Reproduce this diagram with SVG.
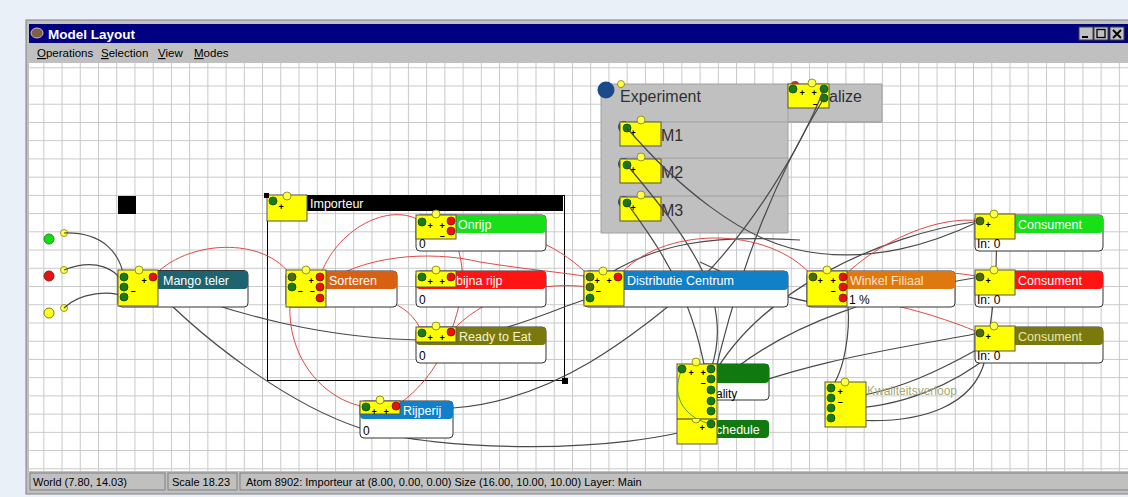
<svg xmlns="http://www.w3.org/2000/svg" width="1128" height="497" viewBox="0 0 1128 497">
<defs>
<pattern id="grid" patternUnits="userSpaceOnUse" x="43.3" y="85.5" width="18.23" height="18.23">
<path d="M0.5,0 V18.23 M0,0.5 H18.23" stroke="#c8c8c8" stroke-width="1" fill="none"/>
</pattern>
<style>
.yb{fill:#ffff00;stroke:#555;stroke-width:1}
.gp{fill:#1a7a1a;stroke:#0c4a0c;stroke-width:0.8}
.op{fill:#4a6a10;stroke:#2a3a08;stroke-width:0.8}
.rp{fill:#e81010;stroke:#801010;stroke-width:0.8}
.yp{fill:#ffff50;stroke:#808000;stroke-width:0.8}
.body{fill:#fff;stroke:#333;stroke-width:1}
.t{font-family:"Liberation Sans",Arial,sans-serif;font-size:12.5px;fill:#fff}
.b{font-family:"Liberation Sans",Arial,sans-serif;font-size:12px;fill:#000}
.s{font-family:"Liberation Sans",Arial,sans-serif;font-size:9px;font-weight:bold;fill:#000}
.big{font-family:"Liberation Sans",Arial,sans-serif;font-size:16px;fill:#303030}
.ui{font-family:"Liberation Sans",Arial,sans-serif;font-size:11.5px;fill:#000}
.w{fill:none;stroke:#4a4a4a;stroke-width:1.2}
.r{fill:none;stroke:#e04848;stroke-width:1}
</style>
</defs>
<rect width="1128" height="497" fill="#eaf0f8"/>
<!-- window chrome -->
<rect x="26" y="20" width="1110" height="474" fill="#c0c0c0" stroke="#808080"/>
<rect x="29" y="24" width="1099" height="19" fill="#000080"/>
<ellipse cx="37" cy="33" rx="6" ry="5" fill="#806040" stroke="#c0c0c0"/>
<text x="48" y="38.5" style="font-family:'Liberation Sans',Arial,sans-serif;font-size:13.5px;font-weight:bold;fill:#fff">Model Layout</text>
<g id="titlebuttons">
<rect x="1079" y="27" width="14" height="13" fill="#c0c0c0" stroke="#404040"/>
<rect x="1094" y="27" width="14" height="13" fill="#c0c0c0" stroke="#404040"/>
<rect x="1110" y="27" width="14" height="13" fill="#c0c0c0" stroke="#404040"/>
<path d="M1082,37 H1088" stroke="#000" stroke-width="2"/>
<rect x="1097" y="29.5" width="8" height="8" fill="none" stroke="#000" stroke-width="1.3"/>
<path d="M1113,30 L1121,38 M1121,30 L1113,38" stroke="#000" stroke-width="1.8"/>
</g>
<g id="menu">
<text x="37" y="57" class="ui"><tspan text-decoration="underline">O</tspan>perations</text>
<text x="101" y="57" class="ui"><tspan text-decoration="underline">S</tspan>election</text>
<text x="158" y="57" class="ui"><tspan text-decoration="underline">V</tspan>iew</text>
<text x="194" y="57" class="ui"><tspan text-decoration="underline">M</tspan>odes</text>
</g>
<!-- canvas -->
<rect x="29" y="63" width="1099" height="408" fill="#fff"/>
<rect x="29" y="63" width="1099" height="408" fill="url(#grid)"/>
<!-- status bar -->
<g id="status">
<rect x="30" y="473" width="135" height="17" fill="#c0c0c0" stroke="#808080"/>
<rect x="168" y="473" width="69" height="17" fill="#c0c0c0" stroke="#808080"/>
<rect x="240" y="473" width="890" height="17" fill="#c0c0c0" stroke="#808080"/>
<text x="33" y="486" class="ui" style="font-size:11px">World (7.80, 14.03)</text>
<text x="172" y="486" class="ui" style="font-size:11px">Scale 18.23</text>
<text x="246" y="486" class="ui" style="font-size:11px">Atom 8902: Importeur at (8.00, 0.00, 0.00) Size (16.00, 10.00, 10.00) Layer: Main</text>
</g>

<!-- Experiment -->
<g id="experiment">
<path d="M601,84 H882 V122 H788 V233 H601 Z" fill="#c0c0c0" stroke="#a0a0a0"/>
<path d="M620,122 H882 M620,158 H788 M620,196 H788 M788,84 V122" stroke="#a0a0a0" fill="none"/>
<circle cx="606" cy="90" r="8.5" fill="#1a4a8a"/>
<circle cx="621" cy="84" r="3.5" class="yp"/>
<text x="620" y="102" class="big">Experiment</text>
</g>
<g id="m1">
<circle cx="624" cy="127" r="6" fill="#1a4a8a"/>
<rect x="620" y="122" width="41" height="24" class="yb"/>
<circle cx="627" cy="128" r="4" class="gp"/>
<circle cx="641" cy="120" r="4" class="yp"/>
<text x="630.4" y="135.5" class="s">+</text>
<text x="661" y="141" class="big">M1</text>
</g>
<g id="m2">
<circle cx="624" cy="164" r="6" fill="#1a4a8a"/>
<rect x="620" y="159" width="41" height="24" class="yb"/>
<circle cx="627" cy="165" r="4" class="gp"/>
<circle cx="641" cy="157" r="4" class="yp"/>
<text x="630.4" y="172.5" class="s">+</text>
<text x="661" y="178" class="big">M2</text>
</g>
<g id="m3">
<circle cx="624" cy="202" r="6" fill="#1a4a8a"/>
<rect x="620" y="197" width="41" height="24" class="yb"/>
<circle cx="627" cy="203" r="4" class="gp"/>
<circle cx="641" cy="195" r="4" class="yp"/>
<text x="630.4" y="210.5" class="s">+</text>
<text x="661" y="216" class="big">M3</text>
</g>
<g id="analize">
<circle cx="795" cy="85" r="4" fill="#c03040"/>
<text x="829" y="102" class="big">alize</text>
<rect x="788" y="84" width="41" height="24" class="yb"/>
<circle cx="793" cy="89" r="4" class="gp"/>
<circle cx="824" cy="89" r="4" class="gp"/>
<circle cx="824" cy="98" r="4" class="gp"/>
<circle cx="812" cy="83" r="4" class="yp"/>
<text x="799.4" y="96" class="s">+</text>
<text x="811.4" y="96" class="s">+</text>
<text x="812.8" y="106.5" class="s">–</text>
</g>

<!-- sources -->
<g id="src-green"><circle cx="49" cy="239" r="5" fill="#10e010" stroke="#308030"/><circle cx="64" cy="233" r="3.5" class="yp"/></g>
<g id="src-red"><circle cx="49" cy="276" r="5" fill="#e81010" stroke="#802020"/><circle cx="64" cy="270" r="3.5" class="yp"/></g>
<g id="src-yellow"><circle cx="49" cy="313" r="5" fill="#ffff20" stroke="#808000"/><circle cx="64" cy="308" r="3.5" class="yp"/></g>
<rect id="black-square" x="118" y="196" width="18" height="18" fill="#000"/>

<!-- Importeur -->
<g id="importeur">
<rect x="267.5" y="195.5" width="297" height="185" fill="none" stroke="#000" stroke-width="1"/>
<rect x="267" y="196" width="296" height="15" fill="#000"/>
<text x="310" y="208" class="t">Importeur</text>
<rect x="267" y="195" width="40" height="26" class="yb"/>
<circle cx="287" cy="196" r="4" class="yp"/>
<circle cx="273" cy="201" r="4" class="gp"/>
<text x="278.4" y="209.5" class="s">+</text>
<rect x="264" y="193" width="5" height="5" fill="#000"/>
<rect x="562" y="378" width="6" height="6" fill="#000"/>
</g>

<!-- connectors -->
<g id="connectors">
<path class="w" d="M64,233 C105,232 120,255 124,277"/>
<path class="w" d="M64,270 C95,258 118,268 124,287"/>
<path class="w" d="M64,308 C80,292 112,290 124,297"/>
<path class="w" d="M139,272 C200,340 290,405 360,428 C440,452 620,455 711,424"/>
<path class="w" d="M153,281 C230,315 330,340 430,340 C500,338 550,310 590,298"/>
<path class="w" d="M453,408 C560,400 640,330 700,280 C750,230 800,150 824,89"/>
<path class="w" d="M824,98 C780,170 740,260 711,390"/>
<path class="w" d="M627,128 C680,190 740,235 790,248 C870,268 940,240 980,221"/>
<path class="w" d="M627,165 C690,240 735,300 711,369"/>
<path class="w" d="M627,203 C660,250 700,300 711,411"/>
<path class="w" d="M711,379 C760,290 880,235 980,221"/>
<path class="w" d="M711,390 C780,320 900,290 980,277"/>
<path class="w" d="M711,401 C800,360 920,345 980,333"/>
<path class="w" d="M831,388 C845,370 850,330 848,307"/>
<path class="w" d="M831,398 C890,398 950,365 985,345"/>
<path class="w" d="M831,408 C900,412 960,380 990,355"/>
<path class="w" d="M831,418 C930,430 975,400 985,360 C995,300 1000,250 994,214"/>
<path class="w" d="M590,287 C650,240 720,235 800,240"/>
<path class="w" d="M700,262 C760,290 800,305 847,306"/>
<path class="r" d="M153,277 C185,240 265,235 292,277"/>
<path class="r" d="M320,277 C335,230 390,200 422,222"/>
<path class="r" d="M320,287 C360,255 430,250 480,262 C530,270 560,272 590,277"/>
<path class="r" d="M320,298 C370,290 410,300 422,333"/>
<path class="r" d="M292,287 C280,350 320,400 366,407"/>
<path class="r" d="M396,406 C420,390 440,365 451,332"/>
<path class="r" d="M451,231 C470,270 462,300 451,332"/>
<path class="r" d="M451,221 C520,225 565,250 590,277"/>
<path class="r" d="M451,332 C480,300 530,280 590,287"/>
<path class="r" d="M618,277 C660,225 770,225 813,277"/>
<path class="r" d="M843,277 C880,240 940,215 980,221"/>
<path class="r" d="M843,287 C900,270 950,270 980,277"/>
<path class="r" d="M843,298 C890,300 950,320 980,333"/>
</g>

<!-- Mango teler -->
<g id="mango">
<rect x="118" y="270.5" width="130" height="36.5" rx="4" class="body"/>
<rect x="150" y="271" width="98" height="18" rx="4" fill="#1e6470"/>
<text x="163" y="285" class="t">Mango teler</text>
<rect x="118" y="270" width="40" height="36" class="yb"/>
<circle cx="124" cy="277" r="4" class="gp"/>
<circle cx="124" cy="287" r="4" class="gp"/>
<circle cx="124" cy="297" r="4" class="gp"/>
<circle cx="153" cy="277" r="4" class="rp"/>
<circle cx="139" cy="270" r="4" class="yp"/>
<text x="141.4" y="283.5" class="s">+</text>
<text x="130.8" y="294" class="s">–</text>
</g>

<!-- Sorteren -->
<g id="sorteren">
<rect x="286" y="271" width="111" height="36" rx="4" class="body"/>
<rect x="318" y="271" width="79" height="18" rx="4" fill="#d86010"/>
<text x="329" y="285" class="t">Sorteren</text>
<rect x="286" y="270" width="40" height="37" class="yb"/>
<circle cx="292" cy="277" r="4" class="op"/>
<circle cx="292" cy="287" r="4" class="gp"/>
<circle cx="320" cy="277" r="4" class="rp"/>
<circle cx="320" cy="287" r="4" class="rp"/>
<circle cx="320" cy="298" r="4" class="rp"/>
<circle cx="306" cy="270" r="4" class="yp"/>
<text x="308.4" y="283.5" class="s">+</text>
<text x="297.8" y="294" class="s">–</text>
<text x="309.8" y="294" class="s">–</text>
</g>

<!-- Onrijp -->
<g id="onrijp">
<rect x="416" y="215" width="130" height="36" rx="4" class="body"/>
<rect x="416" y="215" width="130" height="18" rx="4" fill="#18e018"/>
<text x="458" y="229" class="t">Onrijp</text>
<rect x="416" y="215" width="40" height="24" class="yb"/>
<circle cx="422" cy="222" r="4" class="gp"/>
<circle cx="451" cy="221" r="4" class="rp"/>
<circle cx="451" cy="231" r="4" class="rp"/>
<circle cx="436" cy="214" r="4" class="yp"/>
<text x="427.4" y="228.5" class="s">+</text>
<text x="439.4" y="228.5" class="s">+</text>
<text x="439.8" y="239" class="s">–</text>
<text x="419" y="248" class="b">0</text>
</g>

<!-- bijna rijp -->
<g id="bijnarijp">
<rect x="416" y="271" width="130" height="36" rx="4" class="body"/>
<rect x="416" y="271" width="130" height="18" rx="4" fill="#ff1414"/>
<text x="456" y="285" class="t">bijna rijp</text>
<rect x="416" y="271" width="40" height="16" class="yb"/>
<circle cx="422" cy="277" r="4" class="gp"/>
<circle cx="451" cy="277" r="4" class="rp"/>
<circle cx="436" cy="270" r="4" class="yp"/>
<text x="427.4" y="284.5" class="s">+</text>
<text x="439.4" y="284.5" class="s">+</text>
<text x="419" y="304" class="b">0</text>
</g>

<!-- Ready to Eat -->
<g id="readytoeat">
<rect x="416" y="327" width="130" height="36" rx="4" class="body"/>
<rect x="416" y="327" width="130" height="18" rx="4" fill="#7a7a0c"/>
<text x="459" y="341" class="t" style="fill:#f4f4d0">Ready to Eat</text>
<rect x="416" y="327" width="40" height="15" class="yb"/>
<circle cx="422" cy="333" r="4" class="gp"/>
<circle cx="451" cy="332" r="4" class="rp"/>
<circle cx="436" cy="326" r="4" class="yp"/>
<text x="427.4" y="340.5" class="s">+</text>
<text x="439.4" y="340.5" class="s">+</text>
<text x="419" y="360" class="b">0</text>
</g>

<!-- Rijperij -->
<g id="rijperij">
<rect x="360" y="401" width="93" height="37" rx="4" class="body"/>
<rect x="360" y="401" width="93" height="18" rx="4" fill="#1080c8"/>
<text x="403" y="415" class="t">Rijperij</text>
<rect x="360" y="401" width="40" height="13" class="yb"/>
<circle cx="366" cy="407" r="4" class="gp"/>
<circle cx="396" cy="406" r="4" class="rp"/>
<circle cx="380" cy="400" r="4" class="yp"/>
<text x="371.4" y="414.5" class="s">+</text>
<text x="383.4" y="414.5" class="s">+</text>
<text x="363" y="435" class="b">0</text>
</g>

<!-- Distributie Centrum -->
<g id="distributie">
<rect x="584" y="271" width="204" height="36" rx="4" class="body"/>
<rect x="616" y="271" width="172" height="19" rx="4" fill="#1080c8"/>
<text x="627" y="285" class="t">Distributie Centrum</text>
<rect x="584" y="271" width="40" height="35" class="yb"/>
<circle cx="590" cy="277" r="4" class="op"/>
<circle cx="590" cy="287" r="4" class="op"/>
<circle cx="590" cy="298" r="4" class="gp"/>
<circle cx="618" cy="277" r="4" class="rp"/>
<circle cx="603" cy="271" r="4" class="yp"/>
<text x="594.4" y="283.5" class="s">+</text>
<text x="606.4" y="283.5" class="s">+</text>
<text x="595.8" y="294" class="s">–</text>
</g>

<!-- Winkel Filiaal -->
<g id="winkel">
<rect x="807" y="271" width="148" height="36" rx="4" class="body"/>
<rect x="839" y="271" width="116" height="18" rx="4" fill="#e07810"/>
<text x="850" y="285" class="t" style="fill:#f8e4c8">Winkel Filiaal</text>
<rect x="807" y="271" width="40" height="35" class="yb"/>
<circle cx="813" cy="277" r="4" class="op"/>
<circle cx="843" cy="277" r="4" class="rp"/>
<circle cx="843" cy="287" r="4" class="rp"/>
<circle cx="843" cy="298" r="4" class="rp"/>
<circle cx="827" cy="270" r="4" class="yp"/>
<text x="817.4" y="283.5" class="s">+</text>
<text x="830.4" y="283.5" class="s">+</text>
<text x="830.8" y="294" class="s">–</text>
<text x="849" y="304" class="b">1 %</text>
</g>

<!-- Consumenten -->
<g id="consument1">
<rect x="975" y="215" width="128" height="36" rx="4" class="body"/>
<rect x="1007" y="215" width="96" height="18" rx="4" fill="#18e018"/>
<text x="1018" y="229" class="t">Consument</text>
<rect x="975" y="214" width="40" height="25" class="yb"/>
<circle cx="980" cy="221" r="4" class="op"/>
<circle cx="994" cy="214" r="4" class="yp"/>
<text x="985.4" y="227.5" class="s">+</text>
<text x="977" y="248" class="b">In: 0</text>
</g>
<g id="consument2">
<rect x="975" y="271" width="128" height="36" rx="4" class="body"/>
<rect x="1007" y="271" width="96" height="18" rx="4" fill="#ff1414"/>
<text x="1018" y="285" class="t">Consument</text>
<rect x="975" y="270" width="40" height="25" class="yb"/>
<circle cx="980" cy="277" r="4" class="op"/>
<circle cx="994" cy="270" r="4" class="yp"/>
<text x="985.4" y="283.5" class="s">+</text>
<text x="977" y="304" class="b">In: 0</text>
</g>
<g id="consument3">
<rect x="975" y="327" width="128" height="36" rx="4" class="body"/>
<rect x="1007" y="327" width="96" height="18" rx="4" fill="#7a7a0c"/>
<text x="1018" y="341" class="t" style="fill:#e8e8b0">Consument</text>
<rect x="975" y="326" width="40" height="25" class="yb"/>
<circle cx="980" cy="333" r="4" class="op"/>
<circle cx="994" cy="326" r="4" class="yp"/>
<text x="985.4" y="339.5" class="s">+</text>
<text x="977" y="360" class="b">In: 0</text>
</g>

<!-- Quality / Schedule -->
<g id="quality">
<rect x="700" y="364" width="69" height="36" rx="4" class="body"/>
<rect x="709" y="364" width="60" height="19" rx="4" fill="#107a10"/>
<text x="716" y="398" class="b">ality</text>
<rect x="709" y="420" width="60" height="18" rx="4" fill="#107a10"/>
<text x="716" y="434" class="t">chedule</text>
<rect x="677" y="364" width="40" height="80" class="yb"/>
<path d="M677,419 H717" stroke="#333" fill="none"/>
<path d="M682,369 C668,400 690,420 711,424" stroke="#50a030" fill="none"/>
<circle cx="696" cy="362" r="4" class="yp"/>
<path d="M692,419 A4,4 0 0 0 700,419" class="yp"/>
<circle cx="682" cy="369" r="4" class="gp"/>
<circle cx="711" cy="369" r="4" class="gp"/>
<circle cx="711" cy="379" r="4" class="gp"/>
<circle cx="711" cy="390" r="4" class="gp"/>
<circle cx="711" cy="401" r="4" class="gp"/>
<circle cx="711" cy="411" r="4" class="gp"/>
<circle cx="711" cy="424" r="4" class="gp"/>
<text x="688.4" y="375.5" class="s">+</text>
<text x="700.4" y="375.5" class="s">+</text>
<text x="700.8" y="386" class="s">–</text>
<text x="699.4" y="430.5" class="s">+</text>
</g>

<!-- Kwaliteitsverloop -->
<g id="kwaliteitsverloop">
<rect x="825" y="382" width="41" height="45" class="yb"/>
<circle cx="831" cy="388" r="4" class="gp"/>
<circle cx="831" cy="398" r="4" class="gp"/>
<circle cx="831" cy="408" r="4" class="gp"/>
<circle cx="831" cy="418" r="4" class="gp"/>
<circle cx="845" cy="382" r="4" class="yp"/>
<text x="837.4" y="394.5" class="s">+</text>
<text x="837.8" y="405" class="s">–</text>
<text x="867" y="395" class="b" style="fill:#a8a878">Kwaliteitsverloop</text>
</g>
</svg>
